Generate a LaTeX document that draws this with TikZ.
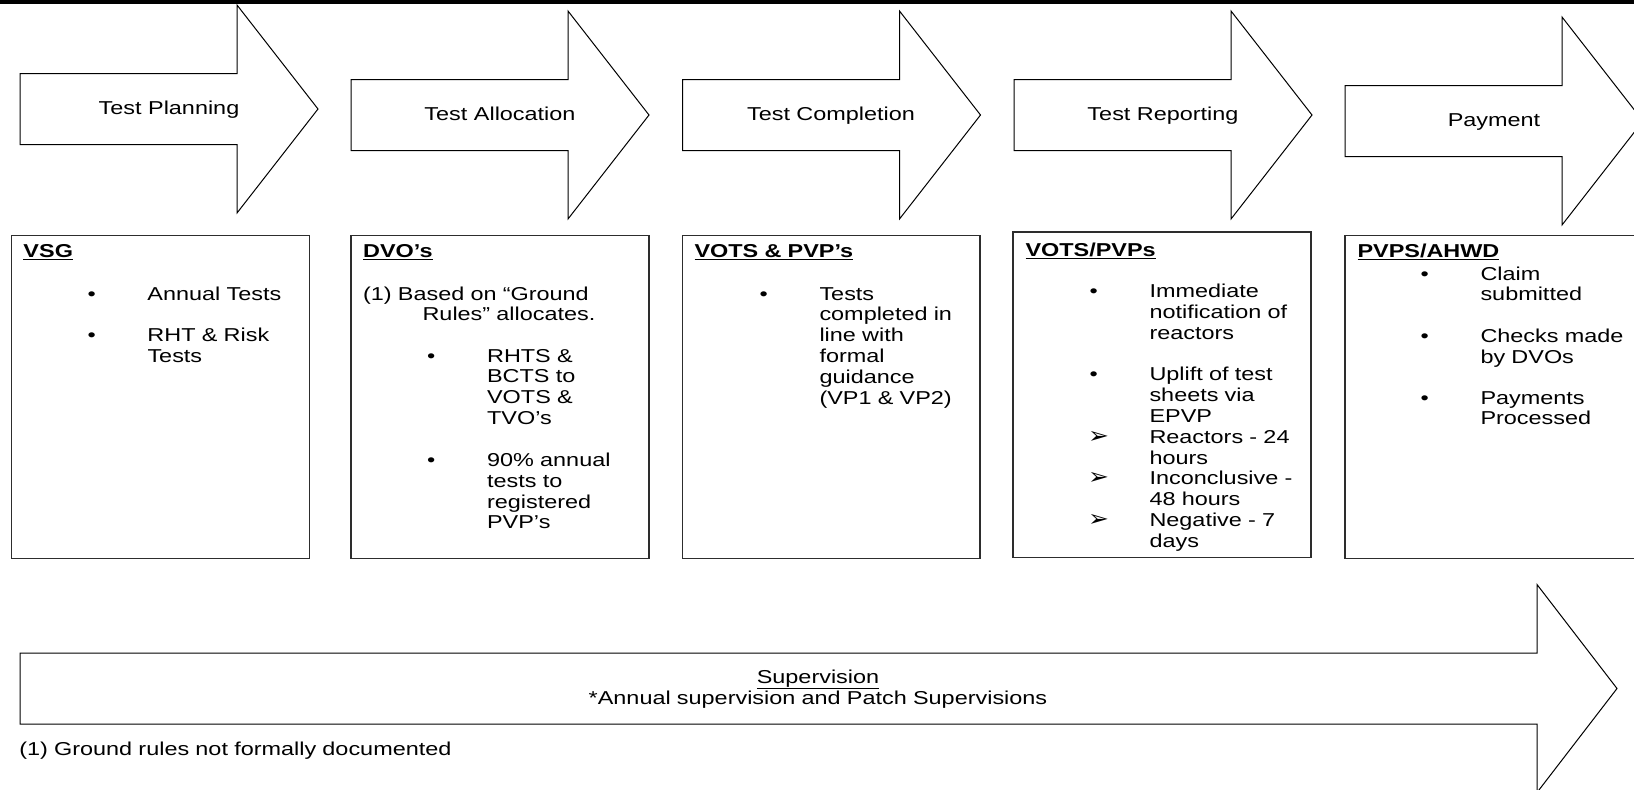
\documentclass[tikz,border=0pt]{standalone}
\usepackage{fontspec}
\setmainfont{Liberation Sans}[FakeStretch=1.255]
\newfontfamily\dingfont{DejaVu Sans}[FakeStretch=1.1]

\tikzset{every picture/.style={line width=0.75pt}}
\tikzset{
  arrowline/.style={draw=black,line width=0.75pt,line join=miter},
  boxline/.style={draw={rgb, 255:red, 45; green, 45; blue, 45},line width=1.1pt},
  lbl/.style={anchor=base,inner sep=0pt,font=\fontsize{14}{15.6}\selectfont},
  txt/.style={anchor=base west,inner sep=0pt,text width=130pt,align=left,font=\fontsize{14}{15.6}\selectfont},
}
\newcommand{\bul}{\llap{\makebox[45pt][l]{•}}}
\newcommand{\arw}{\llap{\makebox[46pt][l]{\dingfont\fontsize{17}{15.6}\selectfont ➢}}}

\begin{document}
\begin{tikzpicture}[x=0.75pt,y=0.75pt,yscale=-1,xscale=1]
\useasboundingbox (0,0) rectangle (1634,789);

%Shape: Rectangle (top rule)
\fill (0,0) rectangle (1634,4);

%Shape: Right Arrow
\draw [arrowline] (20,73.5) -- (237,73.5) -- (237,5) -- (318,109) -- (237,213) -- (237,144.5) -- (20,144.5) -- cycle ;
%Shape: Right Arrow
\draw [arrowline] (351,79.5) -- (568,79.5) -- (568,11) -- (649,115) -- (568,219) -- (568,150.5) -- (351,150.5) -- cycle ;
%Shape: Right Arrow
\draw [arrowline] (682.5,79.5) -- (899.5,79.5) -- (899.5,11) -- (980.5,115) -- (899.5,219) -- (899.5,150.5) -- (682.5,150.5) -- cycle ;
%Shape: Right Arrow
\draw [arrowline] (1014,79.5) -- (1231,79.5) -- (1231,11) -- (1312,115) -- (1231,219) -- (1231,150.5) -- (1014,150.5) -- cycle ;
%Shape: Right Arrow
\draw [arrowline] (1345,85.5) -- (1562,85.5) -- (1562,17) -- (1643,121) -- (1562,225) -- (1562,156.5) -- (1345,156.5) -- cycle ;

%Shape: Rectangle
\draw [boxline] (11.5,235.5) rectangle (309.5,558.5) ;
%Shape: Rectangle
\draw [boxline] (351,235.5) rectangle (649,558.5) ;
%Shape: Rectangle
\draw [boxline] (682.5,235.5) rectangle (980,558.5) ;
%Shape: Rectangle
\draw [boxline] (1013,232) rectangle (1311,557.5) ;
%Shape: Rectangle
\draw [boxline] (1345,235.5) rectangle (1643,558.5) ;

%Shape: Right Arrow (supervision)
\draw [arrowline] (20,653) -- (1537,653) -- (1537,584.5) -- (1617,688.5) -- (1537,792.5) -- (1537,724) -- (20,724) -- cycle ;

% Text Node
\draw (169,114) node [lbl] (plan) {Test Planning};
% Text Node
\draw (500,120) node [lbl] (alloc) {Test Allocation};
% Text Node
\draw (831,120) node [lbl] (compl) {Test Completion};
% Text Node
\draw (1163,120) node [lbl] (report) {Test Reporting};
% Text Node
\draw (1494,126) node [lbl] (pay) {Payment};

% Text Node
\draw (23,257.5) node [txt] (vsg) {\underline{\textbf{VSG}}};
% Text Node
\draw (147,300) node [txt] (vsga) {\bul Annual Tests};
% Text Node
\draw (147,341.5) node [txt] (vsgb) {\bul RHT \& Risk\\Tests};

% Text Node
\draw (362.6,257.5) node [txt] (dvo) {\underline{\textbf{DVO’s}}};
% Text Node
\draw (362.6,300) node [txt,text width=200pt] (dvoa) {(1) Based on “Ground\\\hspace*{44.6pt}Rules” allocates.};
% Text Node
\draw (486.6,362) node [txt] (dvob) {\bul RHTS \&\\BCTS to\\VOTS \&\\TVO’s};
% Text Node
\draw (486.6,466.5) node [txt] (dvoc) {\bul 90\% annual\\tests to\\registered\\PVP’s};

% Text Node
\draw (694,257.5) node [txt,text width=200pt] (vots) {\underline{\textbf{VOTS \& PVP’s}}};
% Text Node
\draw (819,300) node [txt] (votsa) {\bul Tests\\completed in\\line with\\formal\\guidance\\(VP1 \& VP2)};

% Text Node
\draw (1025,256.5) node [txt] (pvps) {\underline{\textbf{VOTS/PVPs}}};
% Text Node
\draw (1149,297.7) node [txt] (pvpsa) {\bul Immediate\\notification of\\reactors};
% Text Node
\draw (1149,380.9) node [txt] (pvpsb) {\bul Uplift of test\\sheets via\\EPVP};
% Text Node
\draw (1149,443.3) node [txt] (pvpsc) {\arw Reactors - 24\\hours};
% Text Node
\draw (1149,484.9) node [txt] (pvpsd) {\arw Inconclusive -\\48 hours};
% Text Node
\draw (1149,526.5) node [txt] (pvpse) {\arw Negative - 7\\days};

% Text Node
\draw (1357,257.5) node [txt] (ahwd) {\underline{\textbf{PVPS/AHWD}}};
% Text Node
\draw (1480,280) node [txt] (ahwda) {\bul Claim\\submitted};
% Text Node
\draw (1480,342.5) node [txt] (ahwdb) {\bul Checks made\\by DVOs};
% Text Node
\draw (1480,404) node [txt] (ahwdc) {\bul Payments\\Processed};

% Text Node
\draw (818,683) node [lbl,text width=600pt,align=center,font=\fontsize{14}{14.3}\selectfont] (superv) {\underline{Supervision}\\{}*Annual supervision and Patch Supervisions};
% Text Node
\draw (18.8,755) node [txt,text width=400pt] (note) {(1) Ground rules not formally documented};

\end{tikzpicture}
\end{document}
